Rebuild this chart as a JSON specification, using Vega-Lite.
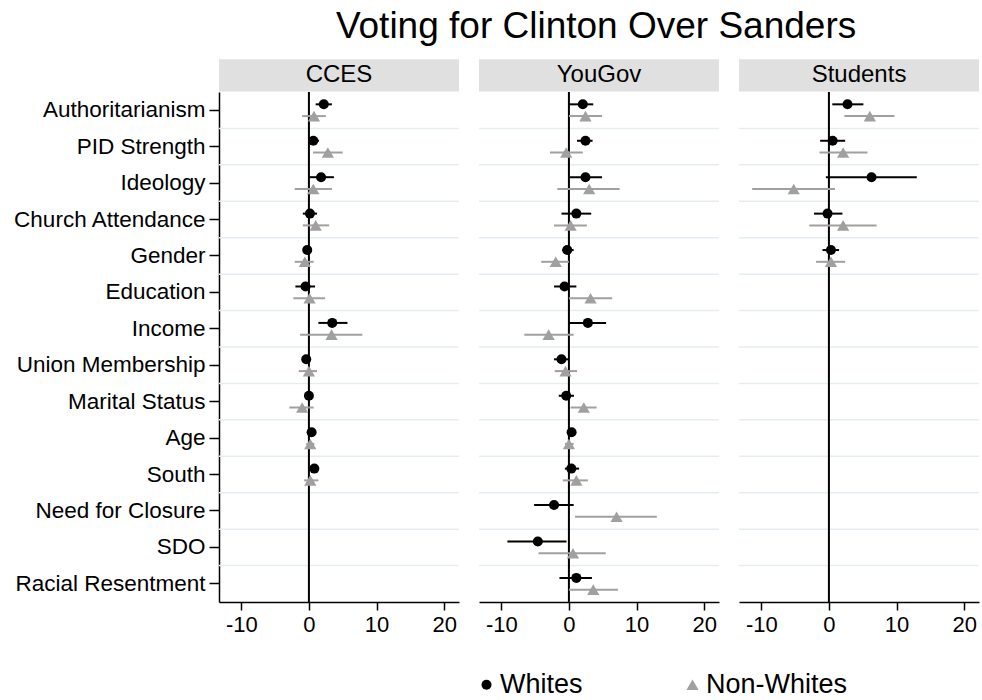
{
  "$schema": "https://vega.github.io/schema/vega-lite/v6.json",
  "padding": {"left": 12, "top": 8, "right": 2, "bottom": 2},
  "background": "white",
  "config": {
    "font": "Liberation Sans",
    "view": {"stroke": null},
    "axisX": {"title": null, "grid": false, "labelFontSize": 22, "labelColor": "black", "tickColor": "black", "domainColor": "black", "tickSize": 8, "labelPadding": 4, "domainWidth": 1.5, "tickWidth": 1.5},
    "axisY": {"title": null, "grid": false, "labelFontSize": 22.5, "labelColor": "black", "tickColor": "black", "domainColor": "black", "tickSize": 10, "labelPadding": 4, "domainWidth": 1.5, "tickWidth": 1.5, "labelLimit": 400},
    "legend": {"labelFontSize": 27, "labelColor": "black", "symbolSize": 170, "labelOffset": 0, "columnPadding": 96, "symbolStrokeWidth": 0, "labelLimit": 400}
  },
  "title": {"text": "Voting for Clinton Over Sanders", "fontSize": 37, "fontWeight": "normal", "color": "black", "anchor": "middle", "frame": "bounds", "dx": 100, "offset": 13},
  "data": {"values": [
    {"p": "CCES", "v": "Authoritarianism", "g": "Whites", "e": 2.2, "l": 1.0, "h": 3.4},
    {"p": "CCES", "v": "Authoritarianism", "g": "Non-Whites", "e": 0.75, "l": -1.0, "h": 2.5},
    {"p": "CCES", "v": "PID Strength", "g": "Whites", "e": 0.65, "l": -0.1, "h": 1.5},
    {"p": "CCES", "v": "PID Strength", "g": "Non-Whites", "e": 2.8, "l": 0.6, "h": 5.0},
    {"p": "CCES", "v": "Ideology", "g": "Whites", "e": 1.8, "l": 0.0, "h": 3.7},
    {"p": "CCES", "v": "Ideology", "g": "Non-Whites", "e": 0.65, "l": -2.1, "h": 3.4},
    {"p": "CCES", "v": "Church Attendance", "g": "Whites", "e": 0.15, "l": -0.9, "h": 1.2},
    {"p": "CCES", "v": "Church Attendance", "g": "Non-Whites", "e": 1.0, "l": -0.9, "h": 3.0},
    {"p": "CCES", "v": "Gender", "g": "Whites", "e": -0.25, "l": -0.7, "h": 0.35},
    {"p": "CCES", "v": "Gender", "g": "Non-Whites", "e": -0.6, "l": -2.1, "h": 0.7},
    {"p": "CCES", "v": "Education", "g": "Whites", "e": -0.5, "l": -2.0, "h": 0.9},
    {"p": "CCES", "v": "Education", "g": "Non-Whites", "e": 0.1, "l": -2.3, "h": 2.4},
    {"p": "CCES", "v": "Income", "g": "Whites", "e": 3.45, "l": 1.4, "h": 5.7},
    {"p": "CCES", "v": "Income", "g": "Non-Whites", "e": 3.35, "l": -1.3, "h": 7.9},
    {"p": "CCES", "v": "Union Membership", "g": "Whites", "e": -0.4, "l": -0.7, "h": 0.0},
    {"p": "CCES", "v": "Union Membership", "g": "Non-Whites", "e": 0.0, "l": -1.5, "h": 1.2},
    {"p": "CCES", "v": "Marital Status", "g": "Whites", "e": 0.0, "l": -0.5, "h": 0.5},
    {"p": "CCES", "v": "Marital Status", "g": "Non-Whites", "e": -1.0, "l": -2.9, "h": 0.7},
    {"p": "CCES", "v": "Age", "g": "Whites", "e": 0.4, "l": 0.0, "h": 0.9},
    {"p": "CCES", "v": "Age", "g": "Non-Whites", "e": 0.2, "l": -0.4, "h": 0.8},
    {"p": "CCES", "v": "South", "g": "Whites", "e": 0.8, "l": 0.25, "h": 1.4},
    {"p": "CCES", "v": "South", "g": "Non-Whites", "e": 0.2, "l": -0.7, "h": 1.4},
    {"p": "CCES", "v": "Need for Closure", "g": "Whites", "e": null, "l": null, "h": null},
    {"p": "CCES", "v": "SDO", "g": "Whites", "e": null, "l": null, "h": null},
    {"p": "CCES", "v": "Racial Resentment", "g": "Whites", "e": null, "l": null, "h": null},
    {"p": "YouGov", "v": "Authoritarianism", "g": "Whites", "e": 2.05, "l": 0.1, "h": 3.6},
    {"p": "YouGov", "v": "Authoritarianism", "g": "Non-Whites", "e": 2.45, "l": 0.0, "h": 4.9},
    {"p": "YouGov", "v": "PID Strength", "g": "Whites", "e": 2.45, "l": 1.2, "h": 3.5},
    {"p": "YouGov", "v": "PID Strength", "g": "Non-Whites", "e": -0.4, "l": -2.8, "h": 2.05},
    {"p": "YouGov", "v": "Ideology", "g": "Whites", "e": 2.45, "l": 0.1, "h": 4.9},
    {"p": "YouGov", "v": "Ideology", "g": "Non-Whites", "e": 3.0, "l": -1.7, "h": 7.5},
    {"p": "YouGov", "v": "Church Attendance", "g": "Whites", "e": 1.1, "l": -1.1, "h": 3.3},
    {"p": "YouGov", "v": "Church Attendance", "g": "Non-Whites", "e": 0.25, "l": -2.2, "h": 2.65},
    {"p": "YouGov", "v": "Gender", "g": "Whites", "e": -0.25, "l": -1.0, "h": 0.7},
    {"p": "YouGov", "v": "Gender", "g": "Non-Whites", "e": -1.95, "l": -4.1, "h": 0.0},
    {"p": "YouGov", "v": "Education", "g": "Whites", "e": -0.65, "l": -2.2, "h": 1.1},
    {"p": "YouGov", "v": "Education", "g": "Non-Whites", "e": 3.2, "l": 0.0, "h": 6.4},
    {"p": "YouGov", "v": "Income", "g": "Whites", "e": 2.8, "l": 0.0, "h": 5.5},
    {"p": "YouGov", "v": "Income", "g": "Non-Whites", "e": -3.0, "l": -6.6, "h": 0.7},
    {"p": "YouGov", "v": "Union Membership", "g": "Whites", "e": -1.1, "l": -2.2, "h": 0.0},
    {"p": "YouGov", "v": "Union Membership", "g": "Non-Whites", "e": -0.5, "l": -2.1, "h": 1.2},
    {"p": "YouGov", "v": "Marital Status", "g": "Whites", "e": -0.4, "l": -1.5, "h": 0.75},
    {"p": "YouGov", "v": "Marital Status", "g": "Non-Whites", "e": 2.2, "l": 0.25, "h": 4.1},
    {"p": "YouGov", "v": "Age", "g": "Whites", "e": 0.4, "l": -0.1, "h": 0.9},
    {"p": "YouGov", "v": "Age", "g": "Non-Whites", "e": 0.0, "l": -0.6, "h": 0.7},
    {"p": "YouGov", "v": "South", "g": "Whites", "e": 0.35, "l": -0.6, "h": 1.5},
    {"p": "YouGov", "v": "South", "g": "Non-Whites", "e": 1.1, "l": -0.9, "h": 2.8},
    {"p": "YouGov", "v": "Need for Closure", "g": "Whites", "e": -2.2, "l": -5.15, "h": 0.7},
    {"p": "YouGov", "v": "Need for Closure", "g": "Non-Whites", "e": 7.05, "l": 0.9, "h": 13.0},
    {"p": "YouGov", "v": "SDO", "g": "Whites", "e": -4.6, "l": -9.1, "h": -0.35},
    {"p": "YouGov", "v": "SDO", "g": "Non-Whites", "e": 0.6, "l": -4.5, "h": 5.45},
    {"p": "YouGov", "v": "Racial Resentment", "g": "Whites", "e": 1.1, "l": -1.4, "h": 3.4},
    {"p": "YouGov", "v": "Racial Resentment", "g": "Non-Whites", "e": 3.6, "l": 0.0, "h": 7.25},
    {"p": "Students", "v": "Authoritarianism", "g": "Whites", "e": 2.75, "l": 0.5, "h": 5.1},
    {"p": "Students", "v": "Authoritarianism", "g": "Non-Whites", "e": 6.05, "l": 2.3, "h": 9.7},
    {"p": "Students", "v": "PID Strength", "g": "Whites", "e": 0.55, "l": -1.3, "h": 2.4},
    {"p": "Students", "v": "PID Strength", "g": "Non-Whites", "e": 2.1, "l": -1.4, "h": 5.7},
    {"p": "Students", "v": "Ideology", "g": "Whites", "e": 6.3, "l": -0.45, "h": 13.0},
    {"p": "Students", "v": "Ideology", "g": "Non-Whites", "e": -5.2, "l": -11.35, "h": 0.9},
    {"p": "Students", "v": "Church Attendance", "g": "Whites", "e": -0.2, "l": -2.2, "h": 2.0},
    {"p": "Students", "v": "Church Attendance", "g": "Non-Whites", "e": 2.1, "l": -2.9, "h": 7.05},
    {"p": "Students", "v": "Gender", "g": "Whites", "e": 0.3, "l": -0.95, "h": 1.5},
    {"p": "Students", "v": "Gender", "g": "Non-Whites", "e": 0.3, "l": -1.9, "h": 2.4},
    {"p": "Students", "v": "Education", "g": "Whites", "e": null, "l": null, "h": null},
    {"p": "Students", "v": "Income", "g": "Whites", "e": null, "l": null, "h": null},
    {"p": "Students", "v": "Union Membership", "g": "Whites", "e": null, "l": null, "h": null},
    {"p": "Students", "v": "Marital Status", "g": "Whites", "e": null, "l": null, "h": null},
    {"p": "Students", "v": "Age", "g": "Whites", "e": null, "l": null, "h": null},
    {"p": "Students", "v": "South", "g": "Whites", "e": null, "l": null, "h": null},
    {"p": "Students", "v": "Need for Closure", "g": "Whites", "e": null, "l": null, "h": null},
    {"p": "Students", "v": "SDO", "g": "Whites", "e": null, "l": null, "h": null},
    {"p": "Students", "v": "Racial Resentment", "g": "Whites", "e": null, "l": null, "h": null}
  ]},
  "spacing": 18,
  "resolve": {"scale": {"x": "independent", "y": "independent", "color": "shared", "shape": "shared", "size": "shared"}, "legend": {"color": "shared", "shape": "shared"}},
  "hconcat": [
    {
      "width": 240, "height": 510,
      "transform": [{"filter": "datum.p === 'CCES'"}],
      "layer": [
        {
          "transform": [{"filter": "datum.v === 'Authoritarianism' && datum.g === 'Whites'"}],
          "layer": [
            {"mark": {"type": "rect", "color": "#e0e0e0"},
             "encoding": {"x": {"datum": -13.3, "type": "quantitative", "title": null}, "x2": {"datum": 22.2},
               "y": {"datum": 1.001, "type": "quantitative", "scale": {"domain": [0, 1]}, "axis": null}, "y2": {"datum": 1.064}}},
            {"mark": {"type": "text", "fontSize": 24, "baseline": "middle", "align": "center", "color": "black"},
             "encoding": {"x": {"datum": 4.45, "type": "quantitative", "title": null}, "y": {"datum": 1.0335, "type": "quantitative"}, "text": {"field": "p"}}}
          ]
        },
        {
          "layer": [
            {"transform": [{"filter": "datum.g === 'Whites' && datum.v !== 'Authoritarianism'"}],
             "mark": {"type": "rule", "color": "#e6edf1", "strokeWidth": 1.5},
             "encoding": {"y": {"field": "v", "type": "nominal", "bandPosition": 0, "scale": {"domain": ["Authoritarianism", "PID Strength", "Ideology", "Church Attendance", "Gender", "Education", "Income", "Union Membership", "Marital Status", "Age", "South", "Need for Closure", "SDO", "Racial Resentment"], "paddingInner": 0, "paddingOuter": 0}, "axis": {"title": null, "orient": "left"}}}},
            {"transform": [{"filter": "datum.v === 'Authoritarianism' && datum.g === 'Whites'"}],
             "mark": {"type": "rule", "color": "black", "strokeWidth": 2},
             "encoding": {"x": {"datum": 0, "type": "quantitative", "title": null}}},
            {"mark": {"type": "rule", "strokeWidth": 2},
             "encoding": {"y": {"field": "v", "type": "nominal", "axis": {"title": null, "orient": "left"}},
               "yOffset": {"field": "g", "type": "nominal", "scale": {"domain": ["Whites", "Non-Whites"], "paddingInner": 0, "paddingOuter": 0.55}},
               "x": {"field": "l", "type": "quantitative", "title": null}, "x2": {"field": "h"},
               "color": {"condition": {"test": "datum.g === 'Whites'", "value": "black"}, "value": "#a0a0a0"}}},
            {"mark": {"type": "point", "filled": true, "opacity": 1},
             "encoding": {"y": {"field": "v", "type": "nominal", "axis": {"title": null, "orient": "left"}}, "yOffset": {"field": "g", "type": "nominal"},
               "x": {"field": "e", "type": "quantitative", "title": null, "scale": {"domain": [-13.3, 22.2], "nice": false, "zero": false}, "axis": {"values": [-10, 0, 10, 20], "labelExpr": "datum.value + ''"}},
               "size": {"field": "g", "type": "nominal", "scale": {"domain": ["Whites", "Non-Whites"], "range": [100, 150]}, "legend": null},
               "color": {"field": "g", "type": "nominal", "scale": {"domain": ["Whites", "Non-Whites"], "range": ["black", "#a0a0a0"]}, "legend": {"title": null, "orient": "none", "direction": "horizontal", "legendX": 254, "legendY": 579}},
               "shape": {"field": "g", "type": "nominal", "scale": {"domain": ["Whites", "Non-Whites"], "range": ["circle", "triangle-up"]}, "legend": {"title": null, "orient": "none", "direction": "horizontal", "legendX": 254, "legendY": 579}}}}
          ]
        }
      ],
      "resolve": {"scale": {"y": "independent"}}
    },
    {
      "width": 240, "height": 510,
      "transform": [{"filter": "datum.p === 'YouGov'"}],
      "layer": [
        {
          "transform": [{"filter": "datum.v === 'Authoritarianism' && datum.g === 'Whites'"}],
          "layer": [
            {"mark": {"type": "rect", "color": "#e0e0e0"},
             "encoding": {"x": {"datum": -13.3, "type": "quantitative", "title": null}, "x2": {"datum": 22.2},
               "y": {"datum": 1.001, "type": "quantitative", "scale": {"domain": [0, 1]}, "axis": null}, "y2": {"datum": 1.064}}},
            {"mark": {"type": "text", "fontSize": 24, "baseline": "middle", "align": "center", "color": "black"},
             "encoding": {"x": {"datum": 4.45, "type": "quantitative", "title": null}, "y": {"datum": 1.0335, "type": "quantitative"}, "text": {"field": "p"}}}
          ]
        },
        {
          "layer": [
            {"transform": [{"filter": "datum.g === 'Whites' && datum.v !== 'Authoritarianism'"}],
             "mark": {"type": "rule", "color": "#e6edf1", "strokeWidth": 1.5},
             "encoding": {"y": {"field": "v", "type": "nominal", "bandPosition": 0, "scale": {"domain": ["Authoritarianism", "PID Strength", "Ideology", "Church Attendance", "Gender", "Education", "Income", "Union Membership", "Marital Status", "Age", "South", "Need for Closure", "SDO", "Racial Resentment"], "paddingInner": 0, "paddingOuter": 0}, "axis": null}}},
            {"transform": [{"filter": "datum.v === 'Authoritarianism' && datum.g === 'Whites'"}],
             "mark": {"type": "rule", "color": "black", "strokeWidth": 2},
             "encoding": {"x": {"datum": 0, "type": "quantitative", "title": null}}},
            {"mark": {"type": "rule", "strokeWidth": 2},
             "encoding": {"y": {"field": "v", "type": "nominal", "axis": null},
               "yOffset": {"field": "g", "type": "nominal", "scale": {"domain": ["Whites", "Non-Whites"], "paddingInner": 0, "paddingOuter": 0.55}},
               "x": {"field": "l", "type": "quantitative", "title": null}, "x2": {"field": "h"},
               "color": {"condition": {"test": "datum.g === 'Whites'", "value": "black"}, "value": "#a0a0a0"}}},
            {"mark": {"type": "point", "filled": true, "opacity": 1},
             "encoding": {"y": {"field": "v", "type": "nominal", "axis": null}, "yOffset": {"field": "g", "type": "nominal"},
               "x": {"field": "e", "type": "quantitative", "title": null, "scale": {"domain": [-13.3, 22.2], "nice": false, "zero": false}, "axis": {"values": [-10, 0, 10, 20], "labelExpr": "datum.value + ''"}},
               "size": {"field": "g", "type": "nominal", "scale": {"domain": ["Whites", "Non-Whites"], "range": [100, 150]}, "legend": null},
               "color": {"field": "g", "type": "nominal", "scale": {"domain": ["Whites", "Non-Whites"], "range": ["black", "#a0a0a0"]}, "legend": {"title": null, "orient": "none", "direction": "horizontal", "legendX": 254, "legendY": 579}},
               "shape": {"field": "g", "type": "nominal", "scale": {"domain": ["Whites", "Non-Whites"], "range": ["circle", "triangle-up"]}, "legend": {"title": null, "orient": "none", "direction": "horizontal", "legendX": 254, "legendY": 579}}}}
          ]
        }
      ],
      "resolve": {"scale": {"y": "independent"}}
    },
    {
      "width": 240, "height": 510,
      "transform": [{"filter": "datum.p === 'Students'"}],
      "layer": [
        {
          "transform": [{"filter": "datum.v === 'Authoritarianism' && datum.g === 'Whites'"}],
          "layer": [
            {"mark": {"type": "rect", "color": "#e0e0e0"},
             "encoding": {"x": {"datum": -13.3, "type": "quantitative", "title": null}, "x2": {"datum": 22.2},
               "y": {"datum": 1.001, "type": "quantitative", "scale": {"domain": [0, 1]}, "axis": null}, "y2": {"datum": 1.064}}},
            {"mark": {"type": "text", "fontSize": 24, "baseline": "middle", "align": "center", "color": "black"},
             "encoding": {"x": {"datum": 4.45, "type": "quantitative", "title": null}, "y": {"datum": 1.0335, "type": "quantitative"}, "text": {"field": "p"}}}
          ]
        },
        {
          "layer": [
            {"transform": [{"filter": "datum.g === 'Whites' && datum.v !== 'Authoritarianism'"}],
             "mark": {"type": "rule", "color": "#e6edf1", "strokeWidth": 1.5},
             "encoding": {"y": {"field": "v", "type": "nominal", "bandPosition": 0, "scale": {"domain": ["Authoritarianism", "PID Strength", "Ideology", "Church Attendance", "Gender", "Education", "Income", "Union Membership", "Marital Status", "Age", "South", "Need for Closure", "SDO", "Racial Resentment"], "paddingInner": 0, "paddingOuter": 0}, "axis": null}}},
            {"transform": [{"filter": "datum.v === 'Authoritarianism' && datum.g === 'Whites'"}],
             "mark": {"type": "rule", "color": "black", "strokeWidth": 2},
             "encoding": {"x": {"datum": 0, "type": "quantitative", "title": null}}},
            {"mark": {"type": "rule", "strokeWidth": 2},
             "encoding": {"y": {"field": "v", "type": "nominal", "axis": null},
               "yOffset": {"field": "g", "type": "nominal", "scale": {"domain": ["Whites", "Non-Whites"], "paddingInner": 0, "paddingOuter": 0.55}},
               "x": {"field": "l", "type": "quantitative", "title": null}, "x2": {"field": "h"},
               "color": {"condition": {"test": "datum.g === 'Whites'", "value": "black"}, "value": "#a0a0a0"}}},
            {"mark": {"type": "point", "filled": true, "opacity": 1},
             "encoding": {"y": {"field": "v", "type": "nominal", "axis": null}, "yOffset": {"field": "g", "type": "nominal"},
               "x": {"field": "e", "type": "quantitative", "title": null, "scale": {"domain": [-13.3, 22.2], "nice": false, "zero": false}, "axis": {"values": [-10, 0, 10, 20], "labelExpr": "datum.value + ''"}},
               "size": {"field": "g", "type": "nominal", "scale": {"domain": ["Whites", "Non-Whites"], "range": [100, 150]}, "legend": null},
               "color": {"field": "g", "type": "nominal", "scale": {"domain": ["Whites", "Non-Whites"], "range": ["black", "#a0a0a0"]}, "legend": {"title": null, "orient": "none", "direction": "horizontal", "legendX": 254, "legendY": 579}},
               "shape": {"field": "g", "type": "nominal", "scale": {"domain": ["Whites", "Non-Whites"], "range": ["circle", "triangle-up"]}, "legend": {"title": null, "orient": "none", "direction": "horizontal", "legendX": 254, "legendY": 579}}}}
          ]
        }
      ],
      "resolve": {"scale": {"y": "independent"}}
    }
  ]
}
